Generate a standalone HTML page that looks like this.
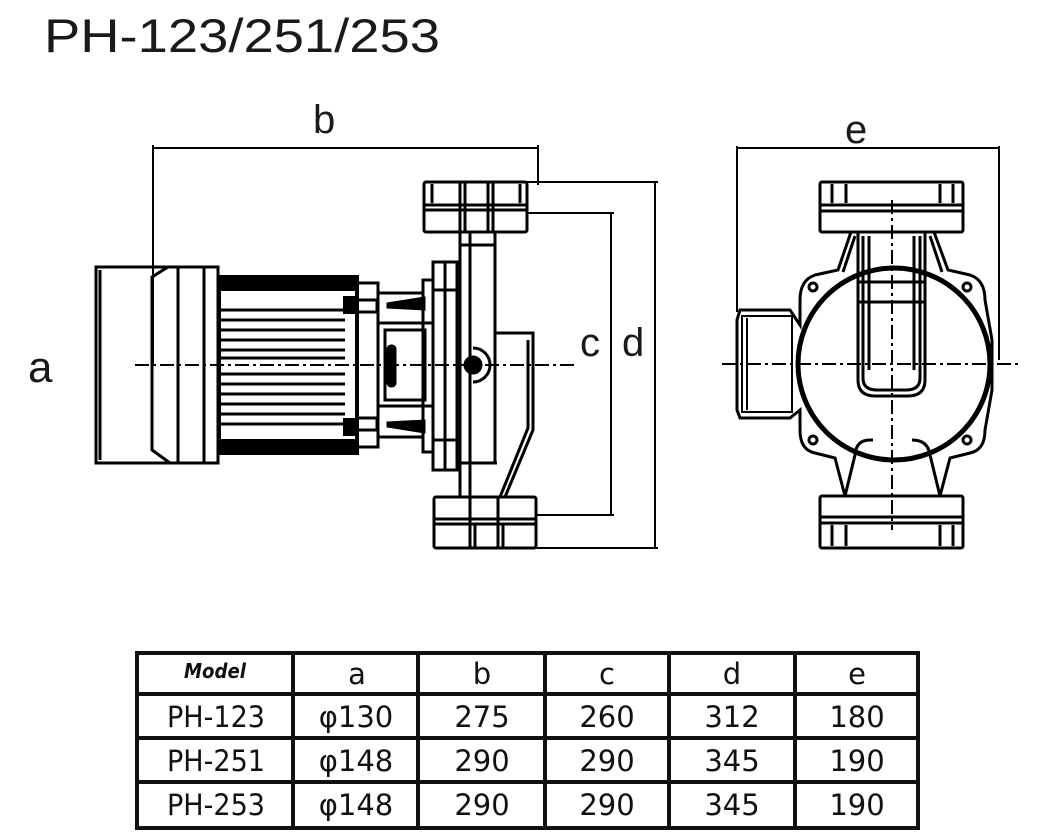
<!DOCTYPE html>
<html><head><meta charset="utf-8"><style>
html,body{margin:0;padding:0;background:#fff;}
svg{display:block;}
.t{font-family:"Liberation Sans",sans-serif;fill:#1a1a1a;}
.tb{font-family:"DejaVu Sans","Liberation Sans",sans-serif;fill:#111;}
</style></head><body>
<svg width="1046" height="839" viewBox="0 0 1046 839" xmlns="http://www.w3.org/2000/svg">
<text x="44" y="52" class="t" font-size="47" textLength="396" lengthAdjust="spacingAndGlyphs">PH-123/251/253</text>
<text x="313" y="133" class="t" font-size="40">b</text>
<text x="845" y="143" class="t" font-size="40">e</text>
<text x="28" y="382" class="t" font-size="44">a</text>
<text x="580" y="356" class="t" font-size="40">c</text>
<text x="622" y="356" class="t" font-size="40">d</text>

<g stroke="#000" fill="none">
<g stroke-width="2">
<line x1="153" y1="148" x2="538" y2="148"/>
<line x1="153" y1="145" x2="153" y2="365"/>
<line x1="538" y1="145" x2="538" y2="185"/>
<line x1="527" y1="182" x2="658" y2="182"/>
<line x1="527" y1="213" x2="614" y2="213"/>
<line x1="536" y1="515" x2="614" y2="515"/>
<line x1="536" y1="548" x2="658" y2="548"/>
<line x1="611" y1="213" x2="611" y2="515"/>
<line x1="655" y1="182" x2="655" y2="548"/>
<line x1="737" y1="148" x2="999" y2="148"/>
<line x1="737" y1="146" x2="737" y2="312"/>
<line x1="999" y1="146" x2="999" y2="360"/>
</g>
<line x1="135" y1="365" x2="575" y2="365" stroke-width="2" stroke-dasharray="14,4,3,4"/>
<line x1="722" y1="364" x2="1020" y2="364" stroke-width="2" stroke-dasharray="14,4,3,4"/>
<line x1="892" y1="200" x2="892" y2="530" stroke-width="2" stroke-dasharray="14,4,3,4"/>

<g stroke-width="3">
<rect x="96" y="267" width="122" height="196"/>
<line x1="100" y1="270" x2="100" y2="460"/>
<polyline points="168,267 152,277 152,450 170,463"/>
<line x1="178" y1="267" x2="178" y2="463"/>
<line x1="204" y1="267" x2="204" y2="463"/>
</g>
<rect x="219" y="277" width="138" height="176" stroke-width="4"/>
<rect x="219" y="277" width="138" height="14" fill="#000" stroke-width="0"/>
<rect x="219" y="439" width="138" height="14" fill="#000" stroke-width="0"/>
<g stroke-width="3">
<line x1="220" y1="310" x2="345" y2="310"/><line x1="220" y1="320" x2="345" y2="320"/>
<line x1="220" y1="330" x2="345" y2="330"/><line x1="220" y1="340" x2="345" y2="340"/>
<line x1="220" y1="350" x2="345" y2="350"/><line x1="220" y1="358" x2="345" y2="358"/>
<line x1="220" y1="374" x2="345" y2="374"/><line x1="220" y1="384" x2="345" y2="384"/>
<line x1="220" y1="394" x2="345" y2="394"/><line x1="220" y1="404" x2="345" y2="404"/>
<line x1="220" y1="414" x2="345" y2="414"/><line x1="220" y1="424" x2="345" y2="424"/>
</g>
<rect x="343" y="296" width="14" height="18" fill="#000" stroke-width="0"/>
<rect x="343" y="418" width="14" height="18" fill="#000" stroke-width="0"/>
<rect x="357" y="300" width="20" height="12" stroke-width="3"/>
<rect x="357" y="418" width="20" height="12" stroke-width="3"/>
<g stroke-width="3">
<polyline points="357,283 378,283 378,293 423,293"/>
<polyline points="357,447 378,447 378,437 423,437"/>
<line x1="378" y1="293" x2="378" y2="437"/>
<rect x="378" y="323" width="55" height="83"/>
<rect x="385" y="330" width="40" height="70"/>
</g>
<rect x="387" y="345" width="9" height="42" rx="4" fill="#000"/>
<path d="M387,303 L425,297 L425,310 L387,308 Z" fill="#000"/>
<path d="M387,422 L425,420 L425,433 L387,427 Z" fill="#000"/>
<g stroke-width="3">
<rect x="423" y="280" width="10" height="172"/>
<rect x="433" y="262" width="24" height="208"/>
<line x1="445" y1="262" x2="445" y2="470"/>
<line x1="433" y1="290" x2="457" y2="290"/>
<line x1="433" y1="440" x2="457" y2="440"/>
<line x1="460" y1="232" x2="460" y2="497"/>
<line x1="470" y1="232" x2="470" y2="497"/>
<line x1="495" y1="232" x2="495" y2="333"/>
<polyline points="495,333 533,333 533,430 505,497"/>
<polyline points="528,340 528,428 500,497"/>
<line x1="495" y1="333" x2="495" y2="463"/>
<line x1="460" y1="463" x2="497" y2="463"/>
<line x1="460" y1="245" x2="495" y2="245"/>
</g>
<circle cx="473" cy="365" r="9" fill="#000"/>
<path d="M473,348 A17,17 0 0 1 473,382" stroke-width="3"/>
<g stroke-width="3">
<rect x="424" y="182" width="103" height="50" rx="2"/>
<line x1="424" y1="205" x2="527" y2="205"/>
<line x1="424" y1="210" x2="527" y2="210"/>
<line x1="460" y1="182" x2="460" y2="232"/>
<line x1="465" y1="182" x2="465" y2="232"/>
<line x1="488" y1="182" x2="488" y2="232"/>
<line x1="493" y1="182" x2="493" y2="232"/>
<line x1="432" y1="184" x2="432" y2="203"/>
<line x1="520" y1="184" x2="520" y2="203"/>
<rect x="434" y="497" width="102" height="51" rx="2"/>
<line x1="434" y1="519" x2="536" y2="519"/>
<line x1="434" y1="524" x2="536" y2="524"/>
<line x1="470" y1="497" x2="470" y2="548"/>
<line x1="475" y1="524" x2="475" y2="548"/>
<line x1="498" y1="497" x2="498" y2="548"/>
<line x1="503" y1="524" x2="503" y2="548"/>
</g>

<g stroke-width="3">
<rect x="820" y="182" width="143" height="50" rx="2"/>
<line x1="820" y1="205" x2="963" y2="205"/>
<line x1="820" y1="211" x2="963" y2="211"/>
<line x1="832" y1="184" x2="832" y2="203"/><line x1="846" y1="184" x2="846" y2="203"/>
<line x1="940" y1="184" x2="940" y2="203"/><line x1="953" y1="184" x2="953" y2="203"/>
<rect x="820" y="496" width="143" height="52" rx="2"/>
<line x1="820" y1="517" x2="963" y2="517"/>
<line x1="820" y1="523" x2="963" y2="523"/>
<line x1="832" y1="525" x2="832" y2="546"/><line x1="846" y1="525" x2="846" y2="546"/>
<line x1="940" y1="525" x2="940" y2="546"/><line x1="953" y1="525" x2="953" y2="546"/>
<path d="M851,232 L838,270 L815,275 Q800,280 800,300 L800,325 L790,310 L740,310 L737,320 L737,410 L740,418 L790,418 L800,410 L800,430 Q800,450 815,453 L835,458 L845,496 M934,232 L948,270 L970,275 Q985,280 985,300 L992,340 L992,390 L985,430 Q985,450 970,453 L950,458 L940,496"/>
<path d="M855,236 L843,272 M930,236 L942,272"/>
<rect x="742" y="316" width="50" height="96" stroke-width="2"/>
<line x1="747" y1="318" x2="747" y2="410" stroke-width="2"/>
<path d="M845,496 L855,455 Q856,440 870,440 L873,440 M940,496 L930,455 Q928,440 912,440"/>
</g>
<circle cx="894" cy="364" r="96" stroke-width="5"/>
<g stroke-width="3">
<path d="M858,232 L858,380 Q858,396 875,396 L908,396 Q925,396 925,380 L925,232"/>
<path d="M863,236 L863,378 Q863,390 877,390 L906,390 Q920,390 920,378 L920,236"/>
<line x1="869" y1="236" x2="869" y2="370"/>
<line x1="914" y1="236" x2="914" y2="370"/>
<line x1="858" y1="282" x2="925" y2="282"/>
<line x1="858" y1="302" x2="925" y2="302"/>
</g>
<circle cx="813" cy="287" r="4" stroke-width="3"/>
<circle cx="967" cy="287" r="4" stroke-width="3"/>
<circle cx="813" cy="440" r="4" stroke-width="3"/>
<circle cx="967" cy="440" r="4" stroke-width="3"/>
</g>

<g stroke="#111" stroke-width="4" fill="none">
<rect x="137" y="653" width="781" height="175"/>
<line x1="137" y1="694" x2="918" y2="694"/>
<line x1="137" y1="738" x2="918" y2="738"/>
<line x1="137" y1="782" x2="918" y2="782"/>
<line x1="293" y1="653" x2="293" y2="828"/>
<line x1="418" y1="653" x2="418" y2="828"/>
<line x1="545" y1="653" x2="545" y2="828"/>
<line x1="669" y1="653" x2="669" y2="828"/>
<line x1="795" y1="653" x2="795" y2="828"/>
</g>
<g class="tb" font-size="29" text-anchor="middle">
<text x="215" y="678" font-size="20" font-weight="bold" font-style="italic" textLength="62" lengthAdjust="spacingAndGlyphs">Model</text>
<text x="357" y="684">a</text><text x="482" y="684">b</text><text x="607" y="684">c</text><text x="732" y="684">d</text><text x="857" y="684">e</text>
<text x="216" y="727" textLength="98" lengthAdjust="spacingAndGlyphs">PH-123</text><text x="356" y="727">φ130</text><text x="482" y="727">275</text><text x="607" y="727">260</text><text x="732" y="727">312</text><text x="857" y="727">180</text>
<text x="216" y="771" textLength="98" lengthAdjust="spacingAndGlyphs">PH-251</text><text x="356" y="771">φ148</text><text x="482" y="771">290</text><text x="607" y="771">290</text><text x="732" y="771">345</text><text x="857" y="771">190</text>
<text x="216" y="815" textLength="98" lengthAdjust="spacingAndGlyphs">PH-253</text><text x="356" y="815">φ148</text><text x="482" y="815">290</text><text x="607" y="815">290</text><text x="732" y="815">345</text><text x="857" y="815">190</text>
</g>
</svg>
</body></html>
